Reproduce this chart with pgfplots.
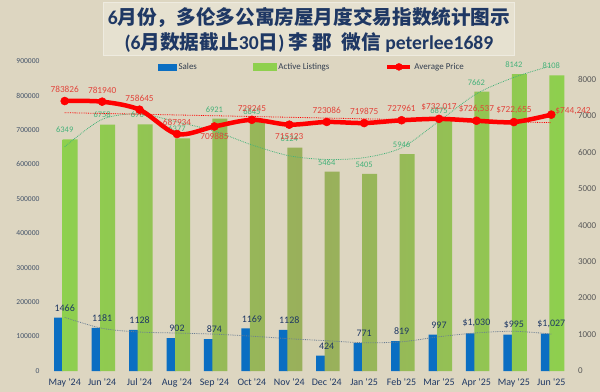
\documentclass[border=0pt]{standalone}
\usepackage{pgfplots}
\pgfplotsset{compat=1.18}
\usepackage{pgfplotstable}
\usepackage{fontspec}
\setmainfont{Carlito}
\newfontfamily\cjk{Noto Sans CJK SC}

\definecolor{bg}{HTML}{DDD6C1}
\definecolor{titlebox}{HTML}{E6E1D0}
\definecolor{titleborder}{HTML}{EEEBE0}
\definecolor{navy}{HTML}{1F3864}
\definecolor{sblue}{HTML}{0A6EC2}
\definecolor{gedge}{HTML}{8ED04E}
\definecolor{gmid}{HTML}{9AAE5C}
\definecolor{plabel}{HTML}{E2453C}
\definecolor{glabel}{HTML}{45B27A}
\definecolor{ticklab}{HTML}{595959}
\definecolor{lticklab}{HTML}{44546A}
\definecolor{strend}{HTML}{6A7E92}
\definecolor{legtext}{HTML}{333F50}

\pgfplotstableread{
x s slab
0 1466 1466
1 1181 1181
2 1128 1128
3 902 902
4 874 874
5 1169 1169
6 1128 1128
7 424 424
8 771 771
9 819 819
10 997 997
11 1030 {\$1,030}
12 995 {\$995}
13 1027 {\$1,027}
}\salestab

\pgfplotstableread{
x l llab
0 6349 6349
1 6758 6758
2 6764 6764
3 6377 6377
4 6921 6921
5 6845 6845
6 6124 6124
7 5464 5464
8 5405 5405
9 5946 5946
10 6875 6875
11 7662 7662
12 8142 8142
13 8108 8108
}\listtab

\pgfplotstableread{
x p
0 783826
1 781940
2 758645
3 687934
4 709885
5 729245
6 715123
7 723086
8 719875
9 727961
10 732017
11 726537
12 722655
13 744242
}\pricetab

\begin{document}
\begin{tikzpicture}
\fill[bg] (0,0) rectangle (600bp,392bp);
\filldraw[fill=titlebox, draw=titleborder, line width=0.8bp] (103bp,337bp) rectangle (514bp,390bp);
\node[text=navy, font=\fontsize{19.7}{22}\selectfont\bfseries, inner sep=0] at (309bp,375bp) {6{\cjk\bfseries 月份，多伦多公寓房屋月度交易指数统计图示}};
\node[text=navy, font=\fontsize{19.7}{22}\selectfont\bfseries, inner sep=0] at (309bp,349bp) {(6{\cjk\bfseries 月数据截止}30{\cjk\bfseries 日}) {\cjk\bfseries 李 郡\ \ 微信} peterlee1689};

% bars axis (right y axis)
\begin{axis}[at={(46bp,21bp)}, anchor=south west, scale only axis,
  width=524bp, height=310bp,
  xmin=-0.5, xmax=13.5, ymin=0, ymax=8500,
  axis y line*=right, axis x line*=bottom,
  axis line style={draw=none}, tick style={draw=none}, major tick length=0pt,
  xtick={0,...,13},
  xticklabels={May \textquotesingle24, Jun \textquotesingle24, Jul \textquotesingle24, Aug \textquotesingle24, Sep \textquotesingle24, Oct \textquotesingle24, Nov \textquotesingle24, Dec \textquotesingle24, Jan \textquotesingle25, Feb \textquotesingle25, Mar \textquotesingle25, Apr \textquotesingle25, May \textquotesingle25, Jun \textquotesingle25},
  xticklabel style={font=\fontsize{10}{12}\selectfont, text=navy, yshift=-4bp},
  ytick={0,1000,2000,3000,4000,5000,6000,7000,8000},
  yticklabels={0,1000,2000,3000,4000,5000,6000,7000,8000},
  yticklabel style={font=\fontsize{9}{11}\selectfont, text=ticklab, xshift=4.5bp},
  clip=false]
\addplot[ybar, bar width=9bp, bar shift=-6bp, fill=sblue, draw=none,
  point meta=explicit symbolic, nodes near coords,
  nodes near coords style={font=\fontsize{10}{12}\selectfont, text=navy, inner sep=1bp, anchor=south, yshift=5bp}]
  table[x=x, y=s, meta=slab] {\salestab};
\addplot[ybar, bar width=15bp, bar shift=5.5bp, draw=none,
  left color=gedge, right color=gedge, middle color=gmid,
  point meta=explicit symbolic, nodes near coords,
  nodes near coords style={font=\fontsize{8.5}{10}\selectfont, text=glabel, inner sep=1bp, anchor=south, yshift=5.3bp}]
  table[x=x, y=l, meta=llab] {\listtab};
% listings trend
\addplot[densely dotted, line width=0.8bp, color=glabel, smooth, no marks]
  coordinates {(0,6150) (1,6900) (2,7050) (3,6830) (4,6580) (5,6200) (6,5900) (7,5800) (8,5850) (9,6120) (10,6850) (11,7600) (12,8050) (13,8370)};
% sales trend
\addplot[densely dotted, line width=0.8bp, color=strend, smooth, no marks]
  coordinates {(0,1470) (1,1170) (2,1068) (3,1041) (4,1010) (5,955) (6,885) (7,830) (8,775) (9,800) (10,940) (11,1045) (12,1090) (13,1014)};
\end{axis}

% price axis (left y axis)
\begin{axis}[at={(46bp,21bp)}, anchor=south west, scale only axis,
  width=524bp, height=310bp,
  xmin=-0.5, xmax=13.5, ymin=0, ymax=900000,
  axis y line*=left, axis x line*=bottom,
  axis line style={draw=none}, tick style={draw=none}, major tick length=0pt,
  xtick=\empty, scaled y ticks=false,
  ytick={0,100000,200000,300000,400000,500000,600000,700000,800000,900000},
  yticklabels={0,100000,200000,300000,400000,500000,600000,700000,800000,900000},
  yticklabel style={font=\fontsize{7.6}{9}\selectfont, text=lticklab, xshift=-3bp},
  clip=false,
  legend style={at={(0.5076,0.981)}, anchor=center, draw=none, fill=none,
    legend columns=3, font=\fontsize{9}{11}\selectfont, text=legtext,
    /tikz/every even column/.append style={column sep=54bp}},
  legend cell align=left,
  plabels/.style={draw=none, no marks, point meta=explicit symbolic, nodes near coords,
    nodes near coords style={font=\fontsize{9.3}{11}\selectfont, text=plabel, inner sep=1bp}}]
\addplot[densely dotted, line width=0.8bp, color=red, no marks, forget plot]
  coordinates {(0,750000) (13,721000)};
\addplot[color=red, line width=4.5bp, smooth, mark=*, mark size=4bp,
  mark options={solid, line width=0.5bp, fill=red}, forget plot]
  table[x=x, y=p] {\pricetab};
% price labels
\addplot[plabels, nodes near coords style={anchor=south, yshift=7bp}, forget plot]
  coordinates {(0,783826) [783826] (1,781940) [781940] (2,758645) [758645] (3,687934) [687934]
   (5,729245) [729245] (7,723086) [723086] (8,719875) [719875] (9,727961) [727961]
   (10,732017) [{\$732,017}] (11,726537) [{\$726,537}] (12,722655) [{\$722,655}]};
\addplot[plabels, nodes near coords style={anchor=north, yshift=-5bp}, forget plot]
  coordinates {(4,709885) [709885]};
\addplot[plabels, nodes near coords style={anchor=north, yshift=-8bp}, forget plot]
  coordinates {(6,715123) [715123]};
\addplot[plabels, nodes near coords style={anchor=west, xshift=3bp, yshift=4bp}, forget plot]
  coordinates {(13,744242) [{\$744,242}]};
\addlegendimage{legend image code/.code={\fill[sblue] (0bp,-3bp) rectangle (18bp,3bp);}}
\addlegendentry{Sales}
\addlegendimage{legend image code/.code={\fill[gedge] (0bp,-3.5bp) rectangle (23bp,3.5bp);}}
\addlegendentry{Active Listings}
\addlegendimage{legend image code/.code={\draw[red, line width=4bp] (0bp,0bp) -- (23bp,0bp); \fill[red] (11.5bp,0bp) circle (3.5bp);}}
\addlegendentry{Average Price}
\end{axis}
\pgfresetboundingbox
\path[use as bounding box] (0,0) rectangle (600bp,392bp);
\end{tikzpicture}
\end{document}
